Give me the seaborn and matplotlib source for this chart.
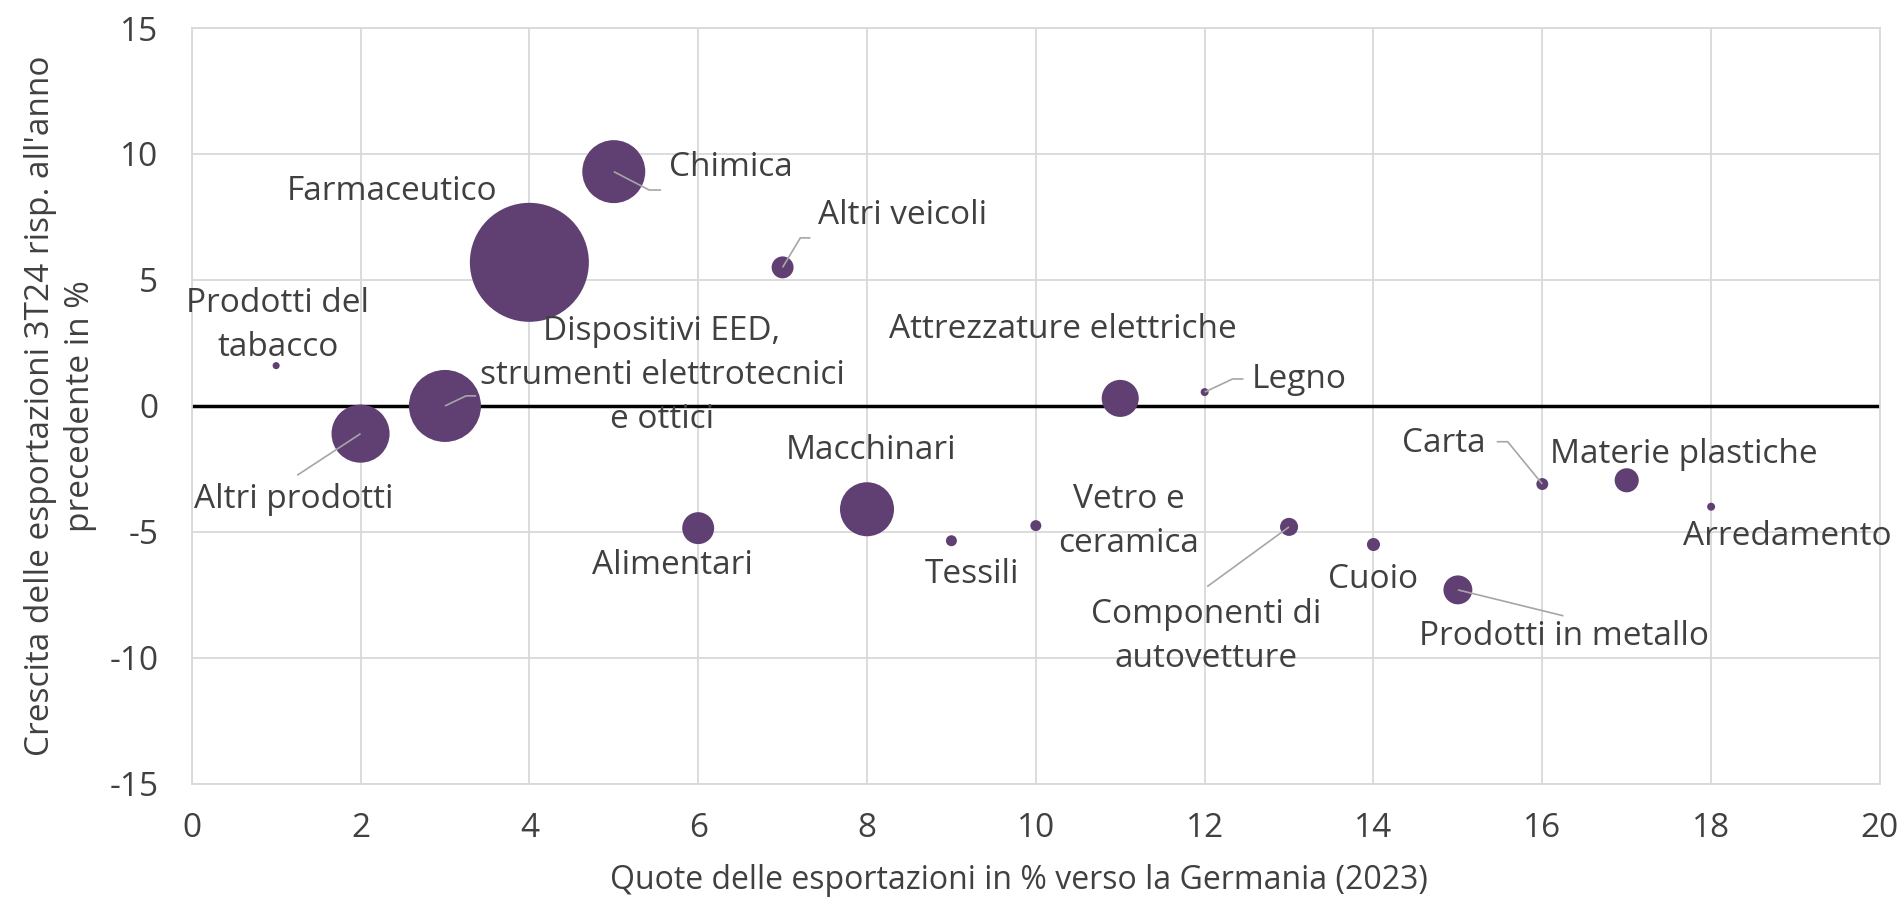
import matplotlib
matplotlib.use("Agg")
import matplotlib.pyplot as plt
import seaborn as sns
import pandas as pd

# data
settori = [
    "Prodotti del\ntabacco", "Altri prodotti", "Dispositivi EED,\nstrumenti elettrotecnici\ne ottici",
    "Farmaceutico", "Chimica", "Alimentari", "Altri veicoli", "Macchinari", "Tessili",
    "Vetro e\nceramica", "Attrezzature elettriche", "Legno", "Componenti di\nautovetture",
    "Cuoio", "Prodotti in metallo", "Carta", "Materie plastiche", "Arredamento",
]
quota = [1, 2, 3, 4, 5, 6, 7, 8, 9, 10, 11, 12, 13, 14, 15, 16, 17, 18]
crescita = [1.6, -1.1, 0.0, 5.7, 9.3, -4.85, 5.5, -4.1, -5.35, -4.75,
            0.3, 0.55, -4.8, -5.5, -7.3, -3.1, -2.95, -4.0]
peso = [0.35, 23.8, 36.6, 100, 28.0, 7.2, 3.4, 20.6, 0.85, 0.85,
        9.7, 0.45, 2.3, 1.2, 5.9, 1.0, 4.1, 0.45]

df = pd.DataFrame({"settore": settori, "quota": quota, "crescita": crescita, "peso": peso})

# label layout: (x, y, ha) and optional leader elbow points
etichette = {
    "Prodotti del\ntabacco": (1.02, 3.2, "center"),
    "Altri prodotti": (1.21, -3.7, "center"),
    "Dispositivi EED,\nstrumenti elettrotecnici\ne ottici": (5.57, 1.2, "center"),
    "Farmaceutico": (2.37, 8.5, "center"),
    "Chimica": (5.66, 9.45, "left"),
    "Alimentari": (5.7, -6.35, "center"),
    "Altri veicoli": (7.42, 7.55, "left"),
    "Macchinari": (8.05, -1.75, "center"),
    "Tessili": (9.24, -6.7, "center"),
    "Vetro e\nceramica": (11.1, -4.6, "center"),
    "Attrezzature elettriche": (10.32, 3.05, "center"),
    "Legno": (12.56, 1.05, "left"),
    "Componenti di\nautovetture": (12.02, -9.15, "center"),
    "Cuoio": (14.0, -6.9, "center"),
    "Prodotti in metallo": (16.26, -9.15, "center"),
    "Carta": (15.33, -1.48, "right"),
    "Materie plastiche": (17.68, -1.94, "center"),
    "Arredamento": (18.9, -5.2, "center"),
}
leader = {
    "Altri prodotti": [(1.25, -2.75)],
    "Dispositivi EED,\nstrumenti elettrotecnici\ne ottici": [(3.25, 0.4), (3.37, 0.4)],
    "Chimica": [(5.42, 8.57), (5.56, 8.57)],
    "Altri veicoli": [(7.21, 6.67), (7.33, 6.67)],
    "Legno": [(12.33, 1.07), (12.46, 1.07)],
    "Componenti di\nautovetture": [(12.03, -7.17)],
    "Prodotti in metallo": [(16.25, -8.33)],
    "Carta": [(15.59, -1.42), (15.46, -1.42)],
}

sns.set_style("white")
plt.rcParams["font.family"] = ["Open Sans", "DejaVu Sans"]
plt.rcParams["axes.unicode_minus"] = False
testo = "#404040"
viola = "#603f73"

fig = plt.figure(figsize=(19.02, 9.01), dpi=100)
ax = fig.add_axes([0.1008, 0.130, 0.8876, 0.8389])

ax.axhline(0, color="black", lw=2.5, zorder=2)
sns.scatterplot(
    data=df, x="quota", y="crescita", size="peso",
    sizes=(0, 7344), size_norm=(0, 100),
    color=viola, linewidth=0, alpha=1, legend=False, ax=ax, zorder=3,
)

for s, q, c in zip(settori, quota, crescita):
    lx, ly, ha = etichette[s]
    ax.text(lx, ly, s, ha=ha, va="center", fontsize=24, color=testo,
            linespacing=1.45, zorder=5)
    if s in leader:
        pts = [(q, c)] + leader[s]
        ax.plot([p[0] for p in pts], [p[1] for p in pts], color="#a6a6a6",
                lw=1.2, zorder=4, solid_capstyle="butt")

ax.set_xlim(0, 20)
ax.set_ylim(-15, 15)
ax.set_xticks(range(0, 21, 2))
ax.set_yticks(range(-15, 16, 5))
ax.grid(True, color="#d9d9d9", lw=1.3, zorder=0)
ax.set_axisbelow(True)
for sp in ax.spines.values():
    sp.set_color("#d9d9d9")
    sp.set_linewidth(1.3)
ax.tick_params(length=0, labelsize=24, labelcolor=testo)
ax.tick_params(axis="y", pad=24)
ax.tick_params(axis="x", pad=20)

ax.set_xlabel("Quote delle esportazioni in % verso la Germania (2023)", fontsize=23, color=testo)
ax.set_ylabel("Crescita delle esportazioni 3T24 risp. all'anno\nprecedente in %", fontsize=24,
              color=testo, linespacing=1.28)
ax.xaxis.set_label_coords(0.49, -0.106)
ax.yaxis.set_label_coords(-0.056, 0.5)

fig.savefig("out.png", dpi=100)
